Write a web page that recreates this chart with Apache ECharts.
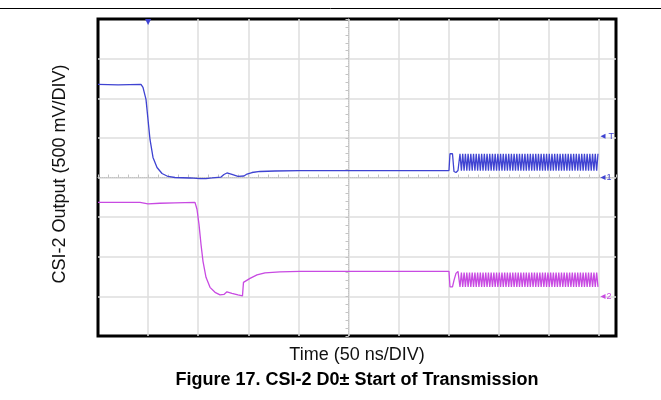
<!DOCTYPE html>
<html lang="en">
<head>
<meta charset="UTF-8">
<title>CSI-2 D0± Start of Transmission</title>
<script src="https://cdn.jsdelivr.net/npm/echarts@6/dist/echarts.min.js"></script>
<style>
  html, body { margin: 0; padding: 0; background: #fff; }
  #chart { width: 661px; height: 400px; }
</style>
</head>
<body>
<div id="chart"></div>
<script>
// values: time in ns, level in V (500 mV/DIV, 50 ns/DIV)
var ch1Time = [0, 20, 42.9, 44.9, 47.9, 49.9, 51.9, 54.9, 58.9, 63.9, 69.9, 76.8, 91.8, 101.8, 107.8, 113.8,
  122.8, 125.7, 128.7, 133.7, 139.7, 145.7, 148.7, 153.7, 161.7, 176.6, 201.6, 280, 350.3,
  351.3, 353.8, 355.3, 357.3, 359.3];
var ch1Volt = [1.175, 1.17, 1.175, 1.137, 0.985, 0.733, 0.48, 0.253, 0.126, 0.051, 0.013, 0, -0.006, -0.013, -0.013, -0.006,
  0.006, 0.038, 0.057, 0.038, 0.013, 0.019, 0.044, 0.063, 0.076, 0.082, 0.086, 0.088, 0.088,
  0.30, 0.30, 0.076, 0.063, 0.088];

var ch2Time = [0, 41.9, 49.9, 61.9, 76.8, 96.8, 98.8, 100.8, 102.8, 104.8, 107.8, 111.8, 116.8, 121.8,
  125.7, 128.7, 133.7, 139.7, 144.2, 145.2, 146.7, 151.7, 158.7, 166.7, 181.6, 201.6, 350.3,
  351.3, 353.8, 355.3, 357.3, 359.3];
var ch2Volt = [1.187, 1.187, 1.168, 1.175, 1.181, 1.187, 1.099, 0.909, 0.657, 0.442, 0.24, 0.114, 0.051, 0.019,
  0.025, 0.057, 0.038, 0.019, 0.006, 0.177, 0.164, 0.227, 0.272, 0.297, 0.309, 0.316, 0.316,
  0.12, 0.12, 0.202, 0.29, 0.316];

// HS burst toggle instants (both lanes, opposite polarity)
var burstTime = [361.3, 362.7, 364.0, 365.4, 366.7, 368.1, 369.4, 370.8, 372.1, 373.5, 374.8, 376.2, 377.5, 378.9,
  380.2, 381.6, 382.9, 384.3, 385.6, 387.0, 388.3, 389.7, 391.0, 392.4, 393.7, 395.1, 396.4, 397.8, 399.1,
  400.5, 401.8, 403.2, 404.5, 405.9, 407.2, 408.6, 409.9, 411.3, 412.6, 414.0, 415.3, 416.7, 418.0, 419.4,
  420.7, 422.1, 423.4, 424.8, 426.1, 427.5, 428.8, 430.2, 431.5, 432.9, 434.2, 435.6, 436.9, 438.3, 439.6,
  441.0, 442.3, 443.7, 445.0, 446.4, 447.7, 449.1, 450.4, 451.8, 453.1, 454.5, 455.8, 457.2, 458.5, 459.9,
  461.2, 462.6, 463.9, 465.3, 466.6, 468.0, 469.3, 470.7, 472.0, 473.4, 474.7, 476.1, 477.4, 478.8, 480.1,
  481.5, 482.8, 484.2, 485.5, 486.9, 488.2, 489.6, 490.9, 492.3, 493.6, 495.0, 496.3, 497.7, 499.0];
var ch1BurstLevels = [0.30, 0.085];  // high, low
var ch2BurstLevels = [0.30, 0.12];

var ch2Offset = -1.5;   // channel 2 ground sits 3 div below centre
var trigLevel = 0.52;
var trigTime = 50;

var blue = '#3f43d2';
var magenta = '#c84ae2';
var gridGray = '#dedede';

function buildTrace(times, volts, levels, firstHigh, offset) {
  var out = [];
  for (var i = 0; i < times.length; i++) out.push([times[i], volts[i] + offset]);
  for (var j = 0; j < burstTime.length; j++) {
    var high = (j % 2 === 0) === firstHigh;
    out.push([burstTime[j], (high ? levels[0] : levels[1]) + offset]);
  }
  return out;
}

var chart = echarts.init(document.getElementById('chart'));

var option = {
  animation: false,
  grid: {
    left: 98, top: 19, width: 518, height: 317,
    show: true, borderColor: '#000', borderWidth: 3, backgroundColor: '#fff'
  },
  xAxis: {
    type: 'value', min: 0, max: 517, interval: 50,
    axisLine: { show: true, onZero: true, lineStyle: { color: '#c4c4c4', type: 'dotted', width: 1 } },
    axisTick: { show: true, inside: true, length: 3, lineStyle: { color: '#c4c4c4' } },
    minorTick: { show: true, splitNumber: 5, length: 3, lineStyle: { color: '#c4c4c4' } },
    axisLabel: { show: false },
    splitLine: { show: true, showMinLine: false, showMaxLine: false, lineStyle: { color: gridGray, width: 1.5 } }
  },
  yAxis: [{
    type: 'value', min: -2, max: 2, interval: 0.5,
    axisLine: { show: false },
    axisTick: { show: false },
    axisLabel: { show: false },
    splitLine: { show: true, showMinLine: false, showMaxLine: false, lineStyle: { color: gridGray, width: 1.5 } }
  }, {
    type: 'value', min: -2, max: 2, interval: 0.5,
    position: 'left', offset: -250.5,
    axisLine: { show: true, onZero: false, lineStyle: { color: '#c4c4c4', type: 'dotted', width: 1 } },
    axisTick: { show: true, length: 3, lineStyle: { color: '#c4c4c4' } },
    minorTick: { show: true, splitNumber: 5, length: 3, lineStyle: { color: '#c4c4c4' } },
    axisLabel: { show: false },
    splitLine: { show: false }
  }],
  series: [{
    name: 'D0+',
    type: 'line',
    showSymbol: false,
    symbol: 'none',
    data: buildTrace(ch1Time, ch1Volt, ch1BurstLevels, true, 0),
    lineStyle: { color: blue, width: 1.3 },
    itemStyle: { color: blue },
    markPoint: {
      silent: true,
      data: [
        { coord: [504, 0], symbol: 'triangle', symbolRotate: 90, symbolSize: 5,
          label: { show: true, position: 'right', distance: 1, formatter: '1', color: blue, fontSize: 9 } },
        { coord: [504, trigLevel], symbol: 'triangle', symbolRotate: 90, symbolSize: 5,
          label: { show: true, position: 'right', distance: 3, formatter: 'T', color: blue, fontSize: 9 } },
        { coord: [trigTime, 2], symbol: 'triangle', symbolRotate: 180, symbolSize: 6, symbolOffset: [0, 3],
          label: { show: false } }
      ]
    }
  }, {
    name: 'D0-',
    type: 'line',
    showSymbol: false,
    symbol: 'none',
    data: buildTrace(ch2Time, ch2Volt, ch2BurstLevels, false, ch2Offset),
    lineStyle: { color: magenta, width: 1.3 },
    itemStyle: { color: magenta },
    markPoint: {
      silent: true,
      data: [
        { coord: [504, ch2Offset], symbol: 'triangle', symbolRotate: 90, symbolSize: 5,
          label: { show: true, position: 'right', distance: 1, formatter: '2', color: magenta, fontSize: 9 } }
      ]
    }
  }],
  graphic: [
    { type: 'line', shape: { x1: 0, y1: 8.5, x2: 661, y2: 8.5 }, style: { stroke: '#000', lineWidth: 1 } },
    { type: 'text', x: 60, y: 174, rotation: Math.PI / 2,
      style: { text: 'CSI-2 Output (500 mV/DIV)', fill: '#111', font: '18px "Liberation Sans", Arial, sans-serif',
               textAlign: 'center', textVerticalAlign: 'middle' } },
    { type: 'text', x: 357, y: 355,
      style: { text: 'Time (50 ns/DIV)', fill: '#111', font: '18px "Liberation Sans", Arial, sans-serif',
               textAlign: 'center', textVerticalAlign: 'middle' } },
    { type: 'text', x: 357, y: 380,
      style: { text: 'Figure 17. CSI-2 D0\u00b1 Start of Transmission', fill: '#000',
               font: 'bold 18px "Liberation Sans", Arial, sans-serif',
               textAlign: 'center', textVerticalAlign: 'middle' } }
  ]
};

chart.setOption(option);
</script>
</body>
</html>
